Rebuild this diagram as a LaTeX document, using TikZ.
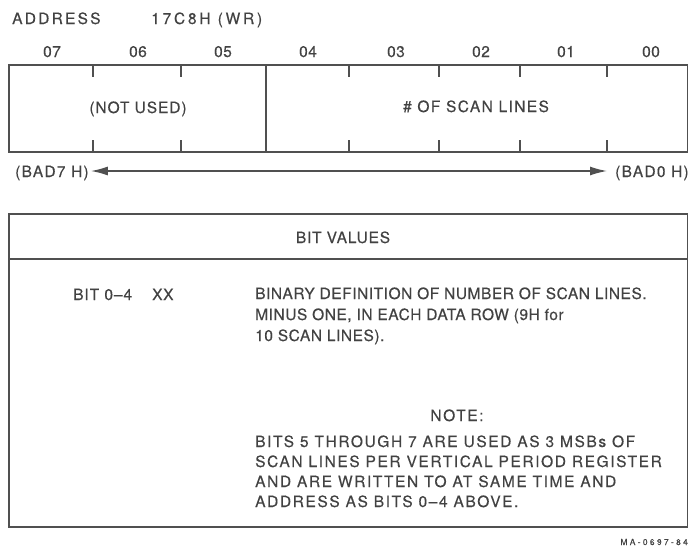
\documentclass[tikz,border=0pt]{standalone}
\usepackage{fontspec}
\setmainfont{TeX Gyre Heros}[FakeBold=0.3]
\usetikzlibrary{arrows.meta}
\newcommand\lsp[2]{{\addfontfeatures{LetterSpace=#1}#2}}
\definecolor{ink}{HTML}{424242}
\definecolor{rule}{HTML}{505050}
\begin{document}
\begin{tikzpicture}[x=1pt,y=-1pt,
  txt/.style={inner sep=0pt, text=ink, font=\fontsize{15.5}{18}\selectfont},
  box/.style={draw=rule, line width=1.8pt},
  tick/.style={draw=rule, line width=1.3pt},
  arr/.style={draw=rule, line width=1.5pt, {Latex[length=17pt,width=9pt]}-{Latex[length=17pt,width=9pt]}}]
\useasboundingbox (0,0) rectangle (688,549);
\fill[white] (0,0) rectangle (688,549);
% header
\node[txt, anchor=base west] (addr) at (12,24) {\lsp{14.4}{ADDRESS}};
\node[txt, anchor=base west] (addrv) at (151,24) {\lsp{18}{17C8H (WR)}};
% bit numbers
\foreach \n/\x in {07/52,06/138,05/223,04/308,03/396,02/481,01/566,00/651}
  \node[txt, anchor=base] (b\n) at (\x,57) {\lsp{3}{\n}};
% register box
\node[box, inner sep=0pt, minimum width=679pt, minimum height=87pt, anchor=north west] (reg) at (8,64) {};
\draw[box] (reg.north west -| 266,0) -- (reg.south west -| 266,0);
\foreach \x in {93,181,349,439,520,607} {
  \draw[tick] (reg.north west -| \x,0) -- ++(0,13);
  \draw[tick] (reg.south west -| \x,0) -- ++(0,-13);
}
\node[txt, anchor=base] (nu) at (138,113) {\lsp{6}{(NOT USED)}};
\node[txt, anchor=base] (sl) at (476,112) {\lsp{9}{\# OF SCAN LINES}};
% arrow
\node[txt, anchor=base west] (bad7) at (15,177) {\lsp{8}{(BAD7 H)}};
\node[txt, anchor=base west] (bad0) at (615,177) {\lsp{8}{(BAD0 H)}};
\draw[arr] (bad7.east |- 0,171) ++(2,0) -- ([xshift=-8pt]bad0.west |- 0,171);
% bit values box
\node[box, inner sep=0pt, minimum width=679pt, minimum height=313pt, anchor=north west] (bvbox) at (8,213) {};
\draw[box] (bvbox.west |- 0,259) -- (bvbox.east |- 0,259);
\node[txt, anchor=base] (bv) at (343,243) {\lsp{5}{BIT VALUES}};
\node[txt, anchor=base west] (bit) at (73,300) {\lsp{6}{BIT 0--4}};
\node[txt, anchor=base west] (xx) at (152,300) {\lsp{4}{XX}};
\node[txt, anchor=base west] (d1) at (255,299) {\lsp{3.5}{BINARY DEFINITION OF NUMBER OF SCAN LINES.}};
\node[txt, anchor=base west] (d2) at (255,320) {\lsp{3.5}{MINUS ONE, IN EACH DATA ROW (9H for}};
\node[txt, anchor=base west] (d3) at (255,341) {\lsp{3.5}{10 SCAN LINES).}};
\node[txt, anchor=base] (note) at (457,421) {\lsp{10.3}{NOTE:}};
\node[txt, anchor=base west] (n1) at (255,447) {\lsp{10.3}{BITS 5 THROUGH 7 ARE USED AS 3 MSBs OF}};
\node[txt, anchor=base west] (n2) at (255,467) {\lsp{10.3}{SCAN LINES PER VERTICAL PERIOD REGISTER}};
\node[txt, anchor=base west] (n3) at (255,487) {\lsp{10.3}{AND ARE WRITTEN TO AT SAME TIME AND}};
\node[txt, anchor=base west] (n4) at (255,507) {\lsp{10.3}{ADDRESS AS BITS 0--4 ABOVE.}};
\node[txt, anchor=base east, font=\fontsize{8.4}{10}\selectfont] (ma) at (688,545) {\lsp{28}{MA-0697-84}};
\end{tikzpicture}
\end{document}
